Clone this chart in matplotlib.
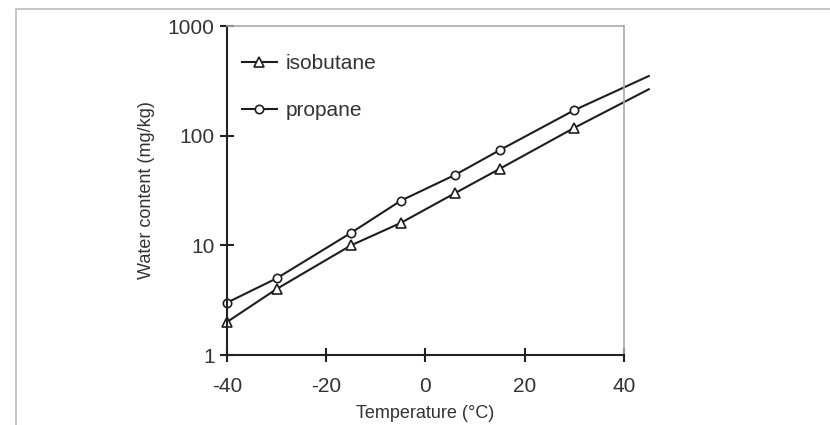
import matplotlib
matplotlib.use("Agg")
import matplotlib.pyplot as plt
from matplotlib.patches import Rectangle

# temperature (°C) and water content (mg/kg)
# last point of each series is the unmarked line end running past the frame
temp = [-40, -30, -15, -5, 6, 15, 30, 45]
isobutane = [2.0, 4.0, 10.0, 16.0, 30.0, 50.0, 118.0, 265.0]
propane = [3.0, 5.0, 13.0, 25.5, 44.0, 74.0, 171.0, 350.0]

x_ticks = [-40, -20, 0, 20, 40]
y_ticks = [1, 10, 100, 1000]
y_labels = ["1", "10", "100", "1000"]

plt.rcParams["font.family"] = ["Liberation Sans", "DejaVu Sans"]
plt.rcParams["axes.unicode_minus"] = False

fig = plt.figure(figsize=(8.3, 4.25), dpi=100)
ax = fig.add_axes([0.2735, 0.1647, 0.4783, 0.7741])

# thin grey frame around the figure (only top and left visible)
fig.patches.append(Rectangle((16 / 830, -0.1), 1.2, (425 - 9) / 425 + 0.1,
                             transform=fig.transFigure, fill=False,
                             edgecolor="#bbbbbb", linewidth=1.2))

line_col = "#1e1e1e"
n = len(temp) - 1
ax.plot(temp, isobutane, color=line_col, lw=1.5, marker="^", ms=7,
        mfc="white", mec=line_col, mew=1.2, markevery=list(range(n)),
        clip_on=False, label="isobutane")
ax.plot(temp, propane, color=line_col, lw=1.5, marker="o", ms=6,
        mfc="white", mec=line_col, mew=1.2, markevery=list(range(n)),
        clip_on=False, label="propane")

ax.set_yscale("log")
ax.set_xlim(-40, 40)
ax.set_ylim(1, 1000)
ax.set_xticks(x_ticks)
ax.set_yticks(y_ticks)
ax.set_yticklabels(y_labels)
ax.minorticks_off()

ax.spines["left"].set_color("#222222")
ax.spines["bottom"].set_color("#222222")
ax.spines["left"].set_linewidth(1.5)
ax.spines["bottom"].set_linewidth(1.5)
ax.spines["top"].set_color("#aaaaaa")
ax.spines["right"].set_color("#aaaaaa")
ax.spines["top"].set_linewidth(1.2)
ax.spines["right"].set_linewidth(1.2)

ax.tick_params(axis="both", direction="inout", length=10, width=1.5,
               color="#222222", labelsize=15, labelcolor="#333333")
ax.tick_params(axis="y", pad=4)
ax.tick_params(axis="x", pad=11)

ax.set_xlabel("Temperature (°C)", fontsize=13, color="#333333", labelpad=6)
ax.set_ylabel("Water content (mg/kg)", fontsize=13, color="#333333",
              labelpad=9)

leg = ax.legend(loc="upper left", frameon=False, fontsize=15,
                handlelength=1.7, handletextpad=0.4, labelspacing=1.35,
                borderaxespad=0.4, bbox_to_anchor=(-0.005, 0.965))
for t in leg.get_texts():
    t.set_color("#333333")

fig.savefig("out.png", dpi=100)
